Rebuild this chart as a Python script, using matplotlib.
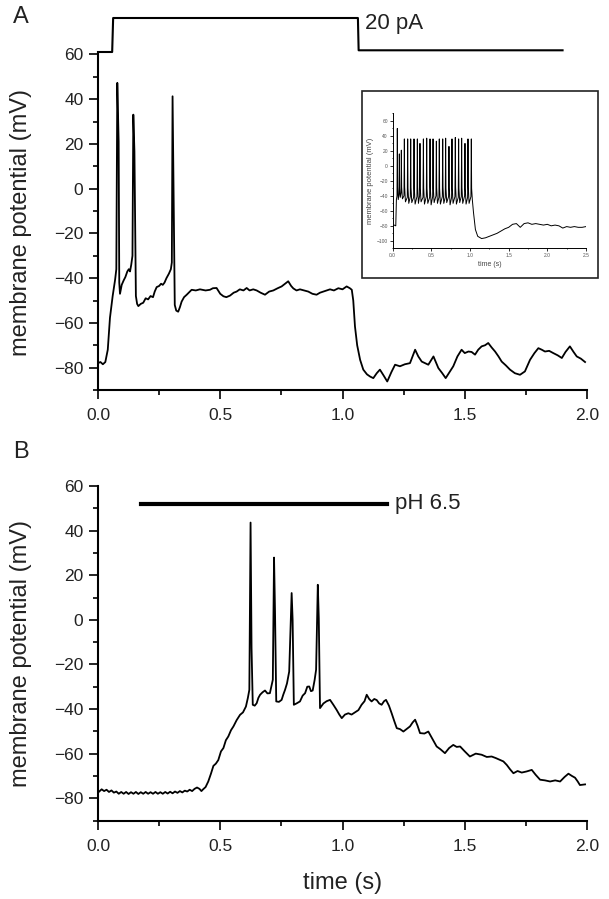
import matplotlib
matplotlib.use("Agg")
import matplotlib.pyplot as plt
from matplotlib.patches import Rectangle
from matplotlib.ticker import MultipleLocator

plt.rcParams["font.family"] = ["Liberation Sans", "DejaVu Sans"]

# ---- panel A: current-step response (time s, membrane potential mV)
a_t = [0.000, 0.010, 0.020, 0.030, 0.040, 0.049, 0.060, 0.070, 0.075, 0.079, 0.0845, 0.087,
       0.090, 0.097, 0.105, 0.112, 0.120, 0.126, 0.131, 0.136, 0.141, 0.1445, 0.149, 0.155,
       0.160, 0.165, 0.175, 0.185, 0.195, 0.205, 0.215, 0.225, 0.232, 0.240, 0.250, 0.258,
       0.265, 0.272, 0.280, 0.290, 0.298, 0.302, 0.305, 0.3095, 0.314, 0.320, 0.328, 0.335,
       0.342, 0.352, 0.363, 0.383, 0.400, 0.417, 0.440, 0.458, 0.470, 0.485, 0.500, 0.513,
       0.525, 0.540, 0.555, 0.567, 0.580, 0.595, 0.608, 0.620, 0.635, 0.649, 0.665, 0.683,
       0.700, 0.717, 0.735, 0.751, 0.765, 0.778, 0.790, 0.799, 0.812, 0.826, 0.843, 0.860,
       0.877, 0.894, 0.908, 0.922, 0.935, 0.949, 0.965, 0.983, 1.000, 1.017, 1.030, 1.038,
       1.044, 1.051, 1.060, 1.072, 1.085, 1.100, 1.113, 1.126, 1.140, 1.153, 1.168, 1.183,
       1.200, 1.215, 1.235, 1.255, 1.276, 1.297, 1.310, 1.324, 1.338, 1.351, 1.372, 1.392,
       1.408, 1.422, 1.438, 1.453, 1.470, 1.487, 1.500, 1.515, 1.528, 1.542, 1.555, 1.569,
       1.583, 1.596, 1.610, 1.624, 1.638, 1.651, 1.668, 1.685, 1.705, 1.726, 1.746, 1.757,
       1.767, 1.785, 1.801, 1.815, 1.828, 1.845, 1.862, 1.880, 1.897, 1.912, 1.930, 1.945,
       1.958, 1.975, 1.992]
a_v = [-78.0, -77.5, -78.5, -77.5, -72.0, -57.7, -48.0, -40.7, -36.0, 47.3, 21.0, -42.0,
       -47.0, -43.0, -41.0, -39.5, -37.0, -36.0, -37.0, -34.0, -30.0, 33.1, 16.7, -48.0,
       -51.5, -52.5, -51.5, -51.0, -49.0, -49.5, -48.0, -48.5, -46.0, -44.0, -43.5, -42.5,
       -43.0, -42.0, -40.0, -38.0, -36.0, -33.0, 41.3, -6.3, -52.0, -54.5, -55.0, -53.0,
       -50.5, -48.5, -47.4, -45.2, -45.5, -45.0, -45.5, -45.2, -44.5, -44.4, -47.0, -48.1,
       -48.5, -47.8, -46.5, -46.0, -45.0, -45.5, -44.4, -45.5, -45.0, -45.5, -46.5, -47.4,
       -46.0, -45.5, -44.5, -43.7, -42.5, -41.4, -43.5, -44.6, -45.5, -45.0, -45.5, -46.0,
       -47.0, -47.4, -46.5, -46.0, -45.5, -45.0, -45.5, -44.5, -45.0, -43.7, -44.5, -45.2,
       -50.0, -61.6, -70.0, -76.5, -80.9, -83.0, -84.0, -84.7, -82.5, -80.9, -83.5, -86.2,
       -82.0, -78.7, -79.4, -78.5, -78.0, -72.0, -75.0, -77.3, -78.0, -78.7, -75.0, -80.2,
       -82.5, -84.7, -82.0, -79.4, -75.0, -72.0, -73.5, -72.8, -73.0, -74.2, -72.0, -70.5,
       -70.0, -69.0, -71.0, -72.8, -75.0, -77.3, -79.0, -80.9, -82.5, -83.2, -81.7, -79.0,
       -76.5, -73.5, -71.3, -72.0, -72.8, -72.5, -73.5, -74.5, -75.7, -73.0, -70.5, -73.0,
       -75.0, -76.0, -77.5]

# injected current step drawn above panel A (s, pA)
stim_t = [0.000, 0.058, 0.062, 1.063, 1.066, 1.900]
stim_pa = [0.0, 0.0, 20.0, 20.0, 1.0, 1.0]

# ---- inset: longer spike train (s, mV)
in_t = [0.000, 0.020, 0.040, 0.048, 0.056, 0.060, 0.064, 0.072, 0.082, 0.086, 0.090, 0.098,
        0.108, 0.112, 0.116, 0.126, 0.146, 0.151, 0.155, 0.165, 0.189, 0.194, 0.198, 0.208,
        0.228, 0.233, 0.237, 0.247, 0.271, 0.276, 0.280, 0.290, 0.314, 0.319, 0.323, 0.333,
        0.348, 0.353, 0.357, 0.367, 0.392, 0.397, 0.401, 0.411, 0.435, 0.440, 0.444, 0.454,
        0.478, 0.483, 0.487, 0.497, 0.517, 0.522, 0.526, 0.536, 0.560, 0.565, 0.569, 0.579,
        0.598, 0.603, 0.607, 0.617, 0.642, 0.647, 0.651, 0.661, 0.680, 0.685, 0.689, 0.699,
        0.723, 0.728, 0.732, 0.742, 0.762, 0.767, 0.771, 0.781, 0.805, 0.810, 0.814, 0.824,
        0.848, 0.853, 0.857, 0.867, 0.887, 0.892, 0.896, 0.906, 0.930, 0.935, 0.939, 0.949,
        0.969, 0.974, 0.978, 0.988, 1.012, 1.017, 1.021, 1.030, 1.045, 1.070, 1.100, 1.150,
        1.200, 1.250, 1.300, 1.350, 1.400, 1.450, 1.500, 1.550, 1.600, 1.650, 1.700, 1.750,
        1.800, 1.850, 1.900, 1.950, 2.000, 2.050, 2.100, 2.150, 2.200, 2.250, 2.300, 2.350,
        2.400, 2.450, 2.500]
in_v = [-80, -79, -80, -45, -40, 50, -28, -45, -38, 16, -30, -42,
        -36, 21, -28, -44, -40, 36, -28, -48, -42, 36, -30, -50,
        -41, 36, -29, -49, -42, 36, -30, -51, -41, 36, -28, -50,
        -40, 30, -30, -48, -42, 36, -29, -51, -41, 37, -30, -50,
        -42, 36, -28, -52, -41, 36, -30, -49, -40, 33, -29, -50,
        -42, 36, -30, -51, -41, 36, -28, -50, -42, 37, -30, -49,
        -41, 26, -29, -52, -42, 36, -30, -50, -41, 38, -28, -51,
        -42, 36, -30, -49, -41, 37, -29, -50, -40, 30, -30, -51,
        -42, 36, -28, -50, -41, 36, -30, -45, -62, -85, -94, -97,
        -96, -94, -92, -90, -87, -84, -82, -78, -77, -82, -77, -76,
        -78, -77, -78, -79, -78, -80, -79, -80, -83, -81, -82, -81,
        -82, -82, -81]

# ---- panel B: acid (pH 6.5) response (s, mV)
b_t = [0.005, 0.015, 0.025, 0.035, 0.045, 0.055, 0.065, 0.075, 0.085, 0.095, 0.105, 0.115,
       0.125, 0.135, 0.145, 0.155, 0.165, 0.175, 0.185, 0.195, 0.205, 0.215, 0.225, 0.235,
       0.245, 0.255, 0.265, 0.275, 0.285, 0.295, 0.305, 0.315, 0.325, 0.335, 0.345, 0.355,
       0.365, 0.375, 0.385, 0.395, 0.405, 0.415, 0.423, 0.430,
       0.440, 0.451, 0.462, 0.472, 0.482, 0.492, 0.503, 0.513, 0.523, 0.533, 0.544, 0.554,
       0.567, 0.581, 0.593, 0.605, 0.613, 0.619, 0.624, 0.628, 0.633, 0.641, 0.649, 0.656,
       0.663, 0.673, 0.683, 0.693, 0.703, 0.710, 0.715, 0.720, 0.724, 0.729, 0.740, 0.751,
       0.758, 0.765, 0.773, 0.782, 0.792, 0.796, 0.801, 0.812, 0.826, 0.837, 0.847, 0.856,
       0.864, 0.871, 0.878, 0.886, 0.892, 0.899, 0.903, 0.908, 0.922, 0.935, 0.949, 0.962,
       0.976, 0.987, 0.997, 1.010, 1.024, 1.037, 1.051, 1.065, 1.078, 1.090, 1.099, 1.109,
       1.119, 1.130, 1.140, 1.150, 1.160, 1.170, 1.178, 1.190, 1.201, 1.212, 1.222, 1.235,
       1.249, 1.262, 1.276, 1.287, 1.297, 1.307, 1.317, 1.335, 1.351, 1.368, 1.385, 1.400,
       1.419, 1.436, 1.453, 1.467, 1.481, 1.500, 1.521, 1.545, 1.569, 1.590, 1.610, 1.627,
       1.644, 1.658, 1.672, 1.685, 1.699, 1.716, 1.733, 1.753, 1.774, 1.790, 1.808, 1.828,
       1.849, 1.870, 1.890, 1.908, 1.924, 1.938, 1.951, 1.962, 1.971, 1.992]
b_v = [-77.0, -76.0, -76.8, -76.2, -77.2, -76.5, -77.5, -77.0, -78.0, -77.2, -78.0, -77.2,
       -78.1, -77.3, -78.0, -77.2, -78.1, -77.3, -78.0, -77.2, -78.0, -77.3, -78.0, -77.2,
       -78.0, -77.3, -78.0, -77.2, -77.9, -77.1, -77.8, -77.0, -77.6, -76.8, -77.4, -76.6,
       -77.0, -76.2, -76.8, -75.8, -75.2, -75.8, -76.8, -76.0,
       -75.0, -72.5, -69.0, -65.5, -64.5, -62.9, -59.0, -57.5, -54.0, -52.3, -49.5, -47.8,
       -45.0, -42.6, -41.5, -38.9, -35.0, -31.4, 43.6, -12.6, -38.1, -38.5, -37.4, -35.0,
       -33.6, -32.5, -31.7, -33.0, -32.9, -29.5, -26.9, 27.9, 3.7, -36.6, -36.8, -35.9,
       -33.5, -31.4, -28.5, -23.2, 12.0, 0.0, -38.1, -37.5, -36.6, -34.0, -32.9, -30.0,
       -29.9, -32.0, -31.7, -27.0, -22.4, 15.7, 0.7, -39.6, -37.5, -36.5, -35.9, -38.0,
       -40.4, -42.5, -44.1, -42.5, -41.9, -42.5, -41.5, -40.5, -38.1, -36.5, -33.6, -35.5,
       -36.6, -35.5, -36.0, -37.5, -38.1, -36.5, -35.9, -38.5, -41.9, -45.5, -48.6, -49.0,
       -50.1, -49.0, -47.8, -46.0, -44.8, -47.5, -50.8, -51.0, -50.1, -53.5, -56.8, -58.0,
       -59.8, -57.5, -56.1, -57.0, -56.8, -59.0, -61.3, -60.0, -60.5, -61.5, -61.3, -62.0,
       -62.8, -63.5, -65.1, -67.0, -68.8, -67.8, -68.5, -68.0, -67.3, -69.5, -71.7, -72.0,
       -72.5, -72.0, -72.5, -70.5, -69.0, -70.0, -70.8, -72.5, -74.1, -73.8]

ph_t = [0.176, 1.183]
ph_level = [52, 52]

x_ticks = [0.0, 0.5, 1.0, 1.5, 2.0]
y_ticks = [60, 40, 20, 0, -20, -40, -60, -80]
in_x_ticks = [0.0, 0.5, 1.0, 1.5, 2.0, 2.5]
in_y_ticks = [60, 40, 20, 0, -20, -40, -60, -80, -100]

TXT = "#222222"


def style_axis(ax, labelsize=12.5, lw=1.5, major=6.5, minor=3.6, xpad=6.5, ypad=4,
               color=TXT):
    ax.spines[["top", "right"]].set_visible(False)
    for s in ("left", "bottom"):
        ax.spines[s].set_linewidth(lw)
    ax.tick_params(which="major", length=major, width=lw * 0.8, labelsize=labelsize,
                   labelcolor=color)
    ax.tick_params(which="minor", length=minor, width=lw * 0.8)
    ax.tick_params(axis="x", which="major", pad=xpad)
    ax.tick_params(axis="y", which="major", pad=ypad)


fig = plt.figure(figsize=(6.09, 8.99), dpi=100)

# panel A
ax_a = fig.add_axes([0.1609, 0.5662, 0.803, 0.3732])
ax_a.plot(a_t, a_v, color="black", lw=1.3)
ax_a.set_xlim(0, 2.0)
ax_a.set_ylim(-90, 60)
ax_a.set_xticks(x_ticks)
ax_a.set_xticklabels([f"{v:.1f}" for v in x_ticks])
ax_a.set_yticks(y_ticks)
ax_a.xaxis.set_minor_locator(MultipleLocator(0.25))
ax_a.yaxis.set_minor_locator(MultipleLocator(10))
style_axis(ax_a)
ax_a.set_ylabel("membrane potential (mV)", fontsize=17, color=TXT)
ax_a.yaxis.set_label_coords(-0.135, 0.5)

# stimulus trace above A
ax_s = fig.add_axes([0.1609, 1 - 52 / 899, 0.803, 34 / 899])
ax_s.plot(stim_t, stim_pa, color="black", lw=1.5, clip_on=False)
ax_s.set_xlim(0, 2.0)
ax_s.set_ylim(0, 20)
ax_s.axis("off")
ax_s.text(1.093, 16.5, "20 pA", fontsize=16, color=TXT, va="center", ha="left")

# inset
fig.add_artist(Rectangle((0.594, 0.6911), 0.388, 0.2077, transform=fig.transFigure,
                         fill=False, lw=1.2, edgecolor="#222222"))
ax_in = fig.add_axes([0.6448, 0.7238, 0.3174, 0.150])
ax_in.plot(in_t, in_v, color="black", lw=0.7)
ax_in.set_xlim(0, 2.5)
ax_in.set_ylim(-110, 70)
ax_in.set_xticks(in_x_ticks)
ax_in.set_xticklabels([f"{v:.1f}" for v in in_x_ticks])
ax_in.set_yticks(in_y_ticks)
ax_in.xaxis.set_minor_locator(MultipleLocator(0.25))
ax_in.yaxis.set_minor_locator(MultipleLocator(10))
style_axis(ax_in, labelsize=3.5, lw=0.7, major=2, minor=1, xpad=1.5, ypad=1.5,
           color="#555555")
ax_in.set_xlabel("time (s)", fontsize=5, color="#444444", labelpad=2)
ax_in.set_ylabel("membrane potential (mV)", fontsize=5.5, color="#444444", labelpad=2)

# panel B
ax_b = fig.add_axes([0.1609, 0.0873, 0.803, 0.3721])
ax_b.plot(b_t, b_v, color="black", lw=1.3)
ax_b.plot(ph_t, ph_level, color="black", lw=3)
ax_b.text(1.215, 52, "pH 6.5", fontsize=16, color=TXT, va="center", ha="left")
ax_b.set_xlim(0, 2.0)
ax_b.set_ylim(-90, 60)
ax_b.set_xticks(x_ticks)
ax_b.set_xticklabels([f"{v:.1f}" for v in x_ticks])
ax_b.set_yticks(y_ticks)
ax_b.xaxis.set_minor_locator(MultipleLocator(0.25))
ax_b.yaxis.set_minor_locator(MultipleLocator(10))
style_axis(ax_b)
ax_b.set_ylabel("membrane potential (mV)", fontsize=17, color=TXT)
ax_b.yaxis.set_label_coords(-0.135, 0.5)
ax_b.set_xlabel("time (s)", fontsize=17, color=TXT, labelpad=13)

fig.text(0.035, 1 - 17 / 899, "A", fontsize=17, color=TXT, ha="center", va="center")
fig.text(0.035, 1 - 452 / 899, "B", fontsize=17, color=TXT, ha="center", va="center")

fig.savefig("out.png", dpi=100)
